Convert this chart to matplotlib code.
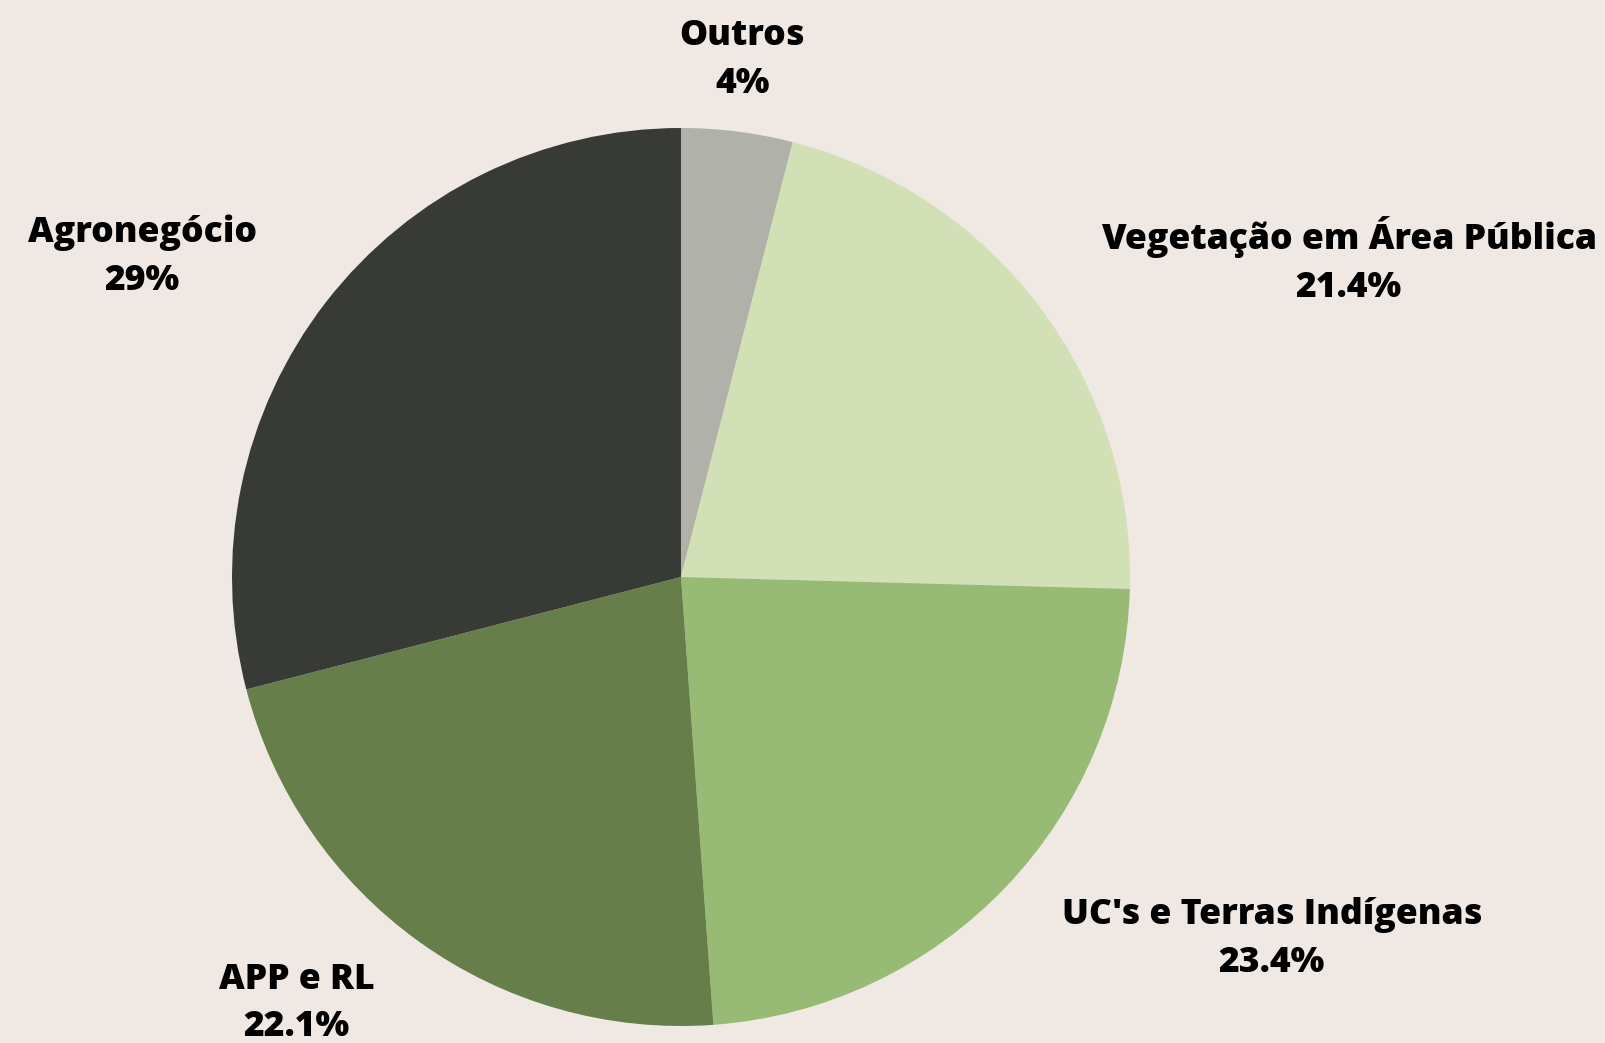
import matplotlib.pyplot as plt

labels = ["Outros", "Vegetação em Área Pública", "UC's e Terras Indígenas", "APP e RL", "Agronegócio"]
shares = [4.0, 21.4, 23.4, 22.1, 29.0]
pct_text = ["4%", "21.4%", "23.4%", "22.1%", "29%"]
colors = ["#b0b1a8", "#d1e0b5", "#97bb75", "#667f4a", "#383b35"]

# label centres in pie-radius units (pie centred at 0,0 with radius 1)
label_pos = [(0.136, 1.152), (1.487, 0.703), (1.316, -0.806), (-0.856, -0.950), (-1.200, 0.713)]

BG = "#f0e9e3"
W, H = 1606, 1043
CX, CY, R = 681, 577, 449

fig = plt.figure(figsize=(W / 100, H / 100), dpi=100, facecolor=BG)
ax = fig.add_axes([0, 0, 1, 1])
ax.set_facecolor(BG)

ax.pie(shares, colors=colors, startangle=90, counterclock=False,
       wedgeprops={"linewidth": 0})

ax.set_xlim(-CX / R, (W - CX) / R)
ax.set_ylim(-(H - CY) / R, CY / R)
ax.set_aspect("auto")
ax.axis("off")

for name, pct, (x, y) in zip(labels, pct_text, label_pos):
    ax.text(x, y, f"{name}\n{pct}", ha="center", va="center", ma="center",
            fontsize=25.6, fontweight="heavy", family="Open Sans",
            linespacing=1.44, color="black")

fig.savefig("out.png", dpi=100, facecolor=BG)
